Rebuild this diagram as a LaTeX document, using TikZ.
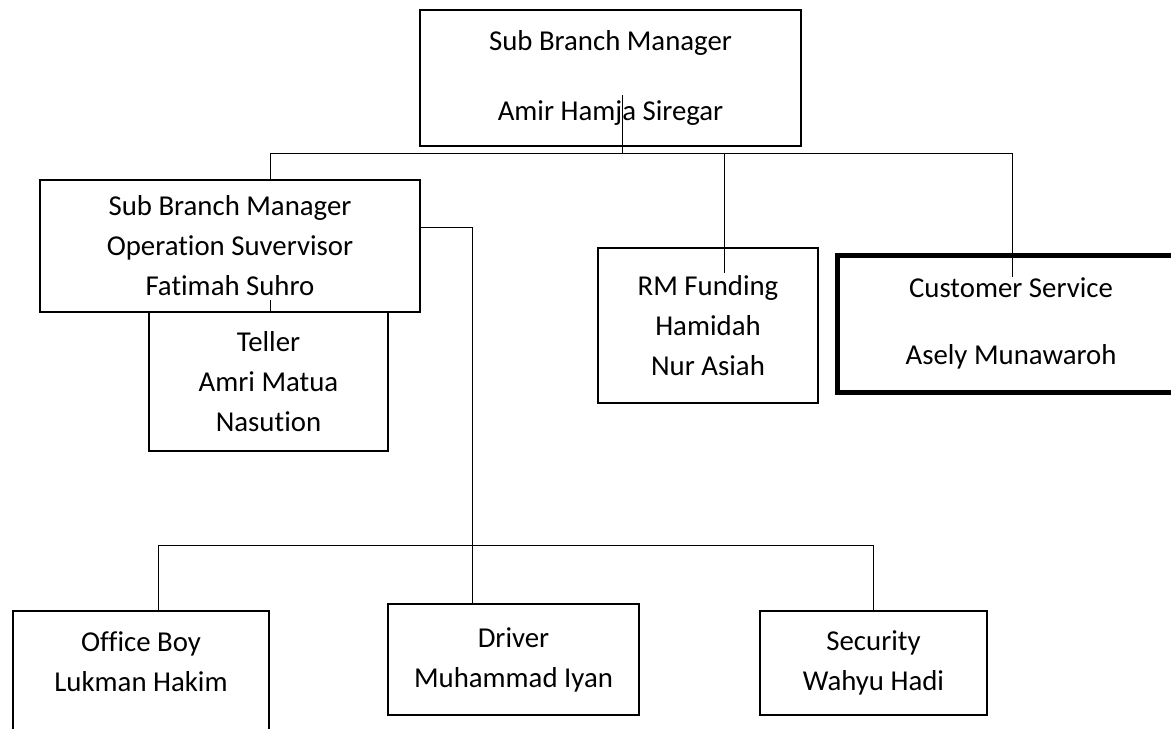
\documentclass[tikz,border=0pt]{standalone}
\usepackage{fontspec}
\setmainfont{Carlito}[Ligatures=NoCommon]
\usetikzlibrary{positioning}
\tikzset{
  unit/.style={rectangle,draw=black,line width=1pt,align=center,inner sep=0pt,font=\fontsize{14.4}{20}\selectfont},
  heavy/.style={unit,line width=2.5pt},
  lbl/.style={align=center,inner sep=0pt,font=\fontsize{14.4}{20}\selectfont},
  link/.style={draw=black,line width=0.5pt}
}

\begin{document}
\begin{tikzpicture}[x=0.5pt,y=-0.5pt]
\useasboundingbox (0,0) rectangle (1171,728);
\clip (0,0) rectangle (1171,728);
% boxes
\node[unit,minimum width=190.5pt,minimum height=68pt] (sbm) at (610.5,78) {Sub Branch Manager\\[15pt]Amir Hamja Siregar};
\node[unit,minimum width=190pt,minimum height=66pt] (ops) at (230,246) {Sub Branch Manager\\Operation Suvervisor\\Fatimah Suhro};
\node[unit,minimum width=119.5pt,minimum height=69.5pt] (teller) at (268.5,381.5) {Teller\\Amri Matua\\Nasution};
\node[unit,minimum width=110pt,minimum height=77.5pt] (rm) at (708,325.5) {RM Funding\\Hamidah\\Nur Asiah};
\node[heavy,minimum width=174pt,minimum height=68.5pt] (cs) at (1011,323.5) {Customer Service\\[13.5pt]Asely Munawaroh};
\node[unit,minimum width=128pt,minimum height=64.5pt,label={[lbl,yshift=6.75pt]center:{Office Boy\\Lukman Hakim}}] (office) at (141,675.5) {};
\node[unit,minimum width=125.5pt,minimum height=55.5pt] (driver) at (513.5,659.5) {Driver\\Muhammad Iyan};
\node[unit,minimum width=113.5pt,minimum height=52pt] (security) at (873.5,663) {Security\\Wahyu Hadi};
% connector points
\coordinate (sbmfoot) at (622,95);
\coordinate (barl) at (270,153);
\coordinate (barr) at (1012,153);
\coordinate (rmin) at (724,273);
\coordinate (csin) at (1012,277);
\coordinate (opsfoot) at (270,300);
\coordinate (opsjoin) at (420,227);
\coordinate (drvin) at (472,604);
\coordinate (lowl) at (158,545);
\coordinate (lowr) at (873.5,545);
% lines
\draw[link] (sbmfoot) -- (sbmfoot |- barl);
\draw[link] (barl) -- (barr);
\draw[link] (barl) -- (barl |- ops.north);
\draw[link] (rmin |- barl) -- (rmin);
\draw[link] (barr) -- (csin);
\draw[link] (opsfoot) -- (opsfoot |- teller.north);
\draw[link] (opsjoin) -| (drvin);
\draw[link] (lowl) -- (lowr);
\draw[link] (lowl) -- (lowl |- office.north);
\draw[link] (lowr) -- (security.north);
\end{tikzpicture}
\end{document}
